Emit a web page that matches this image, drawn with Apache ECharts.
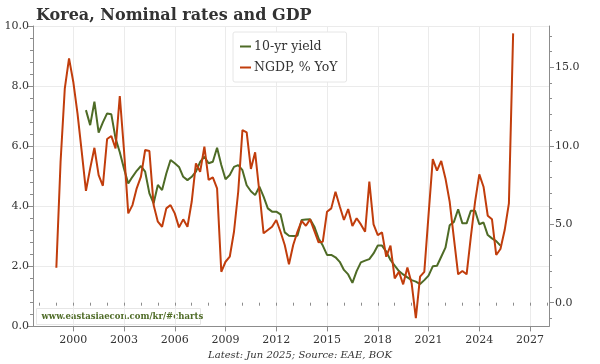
<!DOCTYPE html>
<html>
<head>
<meta charset="utf-8">
<script src="https://cdn.jsdelivr.net/npm/echarts@6/dist/echarts.min.js"></script>
<style>
html,body{margin:0;padding:0;background:#fff;}
#c{width:600px;height:364px;}
</style>
</head>
<body>
<div id="c"></div>
<script>
// ---- data (quarterly) ----
const yieldStart = [2000, 4];   // first quarter of 10-yr yield series
const yield10 = [
  7.20, 6.70, 7.48, 6.45, 6.79, 7.09, 7.06, 6.26, 5.80, 5.25,
  4.76, 4.98, 5.18, 5.34, 5.15, 4.43, 4.10, 4.71, 4.54, 5.09,
  5.54, 5.43, 5.31, 4.98, 4.87, 4.98, 5.15, 5.48, 5.65, 5.43,
  5.48, 5.95, 5.37, 4.90, 5.04, 5.31, 5.37, 5.20, 4.70, 4.50,
  4.37, 4.65, 4.32, 3.93, 3.82, 3.82, 3.73, 3.13, 3.02, 3.01,
  3.02, 3.54, 3.56, 3.57, 3.32, 2.93, 2.69, 2.38, 2.38, 2.30,
  2.15, 1.88, 1.73, 1.45, 1.84, 2.13, 2.19, 2.24, 2.43, 2.69,
  2.69, 2.49, 2.21, 2.02, 1.84, 1.73, 1.63, 1.54, 1.49, 1.41,
  1.54, 1.69, 2.00, 2.02, 2.32, 2.62, 3.37, 3.48, 3.90, 3.43,
  3.43, 3.85, 3.85, 3.40, 3.46, 3.04, 2.93, 2.84, 2.69
];
const ngdpStart = [1999, 1];    // first quarter of NGDP series
const ngdp = [
  2.23, 8.98, 13.66, 15.57, 14.08, 12.06, 9.62, 7.13, 8.56, 9.87,
  8.13, 7.45, 10.43, 10.62, 9.83, 13.17, 9.70, 5.69, 6.22, 7.29,
  8.03, 9.73, 9.66, 6.22, 5.16, 4.84, 6.01, 6.22, 5.69, 4.80,
  5.31, 4.84, 6.43, 8.88, 8.34, 9.94, 7.82, 7.99, 7.29, 1.97,
  2.61, 2.93, 4.52, 7.07, 11.00, 10.85, 8.52, 9.58, 7.07, 4.42,
  4.63, 4.84, 5.27, 4.52, 3.68, 2.45, 3.68, 4.52, 5.22, 4.90,
  5.31, 4.57, 3.85, 3.89, 5.80, 6.01, 7.07, 6.15, 5.27, 5.97,
  4.89, 5.38, 4.99, 4.52, 7.71, 4.99, 4.31, 4.48, 2.93, 3.63,
  1.55, 1.97, 1.17, 2.25, 1.24, -0.99, 1.66, 1.97, 5.60, 9.15,
  8.41, 9.03, 7.92, 6.43, 4.10, 1.81, 2.02, 1.81, 4.20, 6.43,
  8.18, 7.39, 5.54, 5.31, 3.04, 3.42, 4.63, 6.33, 17.16
];
const yearLabels = [2000, 2003, 2006, 2009, 2012, 2015, 2018, 2021, 2024, 2027];
const yearMinor = [1998,1999,2000,2001,2002,2003,2004,2005,2006,2007,2008,2009,2010,2011,2012,2013,2014,2015,2016,2017,2018,2019,2020,2021,2022,2023,2024,2025,2026,2027,2028];
const rightLabels = [0, 5, 10, 15];
const rightMinor = [-1,0,1,2,3,4,5,6,7,8,9,10,11,12,13,14,15,16,17];
const seriesNames = ['10-yr yield', 'NGDP, % YoY'];

// quarter index -> decimal year (quarter start)
function toPairs(start, vals) {
  return vals.map((v, i) => {
    const q = start[1] - 1 + i;
    return [start[0] + q / 4, v];
  });
}

const GREEN = '#4e6b26';
const ORANGE = '#c13d0c';
const AXIS = '#8c8c8c';
const GRID = '#ebebeb';
const TXT = '#333333';
const FONT = 'DejaVu Serif';

const chart = echarts.init(document.getElementById('c'), null, {renderer: 'canvas'});
const option = {
  animation: false,
  backgroundColor: '#ffffff',
  title: {
    text: 'Korea, Nominal rates and GDP',
    left: 31, top: 3,
    textStyle: {fontFamily: FONT, fontWeight: 'bold', fontSize: 16, color: '#333'}
  },
  legend: {
    data: seriesNames,
    orient: 'vertical',
    left: 233, top: 32,
    itemWidth: 11, itemHeight: 2, itemGap: 8,
    padding: [8, 9, 8, 7],
    backgroundColor: '#fff',
    borderColor: '#e6e6e6', borderWidth: 1, borderRadius: 2,
    icon: 'rect',
    textStyle: {fontFamily: FONT, fontSize: 12.5, color: TXT, padding: [0,0,0,-2]}
  },
  grid: {left: 33, right: 51, top: 26, bottom: 37.6, containLabel: false},
  xAxis: [
    {
      type: 'value', min: 1997.62, max: 2028.12,
      axisLine: {show: true, lineStyle: {color: AXIS, width: 1}},
      axisTick: {show: true, length: 5, lineStyle: {color: AXIS}, customValues: yearLabels},
      axisLabel: {show: true, customValues: yearLabels, fontFamily: FONT, fontSize: 11, color: TXT, margin: 8,
                  formatter: v => String(v)},
      splitLine: {show: true, lineStyle: {color: GRID, width: 1}}
    },
    {
      type: 'value', min: 1997.62, max: 2028.12, position: 'bottom',
      axisLine: {show: false},
      axisTick: {show: true, length: 3, lineStyle: {color: AXIS}, customValues: yearMinor},
      axisLabel: {show: false},
      splitLine: {show: false}
    }
  ],
  yAxis: [
    {
      type: 'value', min: 0, max: 10, interval: 2, position: 'left',
      axisLine: {show: true, lineStyle: {color: AXIS}},
      axisTick: {show: true, length: 5, lineStyle: {color: AXIS}},
      minorTick: {show: true, splitNumber: 5, length: 3, lineStyle: {color: AXIS}},
      axisLabel: {fontFamily: FONT, fontSize: 11, color: TXT, margin: 4, formatter: v => v.toFixed(1)},
      splitLine: {show: true, lineStyle: {color: GRID, width: 1}}
    },
    {
      type: 'value', min: -1.51, max: 17.63, position: 'right',
      axisLine: {show: true, lineStyle: {color: AXIS}},
      axisTick: {show: true, length: 5, lineStyle: {color: AXIS}, customValues: rightLabels},
      axisLabel: {fontFamily: FONT, fontSize: 11, color: TXT, margin: 6, customValues: rightLabels,
                  formatter: v => v.toFixed(1)},
      splitLine: {show: false}
    },
    {
      type: 'value', min: -1.51, max: 17.63, position: 'right',
      axisLine: {show: false},
      axisTick: {show: true, length: 3, lineStyle: {color: AXIS}, customValues: rightMinor},
      axisLabel: {show: false},
      splitLine: {show: false}
    }
  ],
  series: [
    {
      name: seriesNames[0], type: 'line', xAxisIndex: 0, yAxisIndex: 0,
      data: toPairs(yieldStart, yield10),
      showSymbol: false, symbol: 'none',
      lineStyle: {color: GREEN, width: 2}, itemStyle: {color: GREEN}, z: 3
    },
    {
      name: seriesNames[1], type: 'line', xAxisIndex: 0, yAxisIndex: 1,
      data: toPairs(ngdpStart, ngdp),
      showSymbol: false, symbol: 'none',
      lineStyle: {color: ORANGE, width: 2}, itemStyle: {color: ORANGE}, z: 4
    }
  ],
  graphic: [
    {
      type: 'group', left: 36, top: 308,
      children: [
        {type: 'rect', shape: {x: 0, y: 0, width: 164, height: 16},
         style: {fill: '#fff', stroke: '#e6e6e6', lineWidth: 1}},
        {type: 'text', x: 5, y: 4,
         style: {text: 'www.eastasiaecon.com/kr/#charts', fill: '#4e6b26',
                 font: 'bold 8.5px "DejaVu Serif"'}}
      ],
      z: 10
    },
    {
      type: 'text', left: 'center', top: 350,
      style: {text: 'Latest: Jun 2025; Source: EAE, BOK', fill: TXT,
              font: 'italic 10px "DejaVu Serif"'}
    }
  ]
};
chart.setOption(option);
</script>
</body>
</html>
